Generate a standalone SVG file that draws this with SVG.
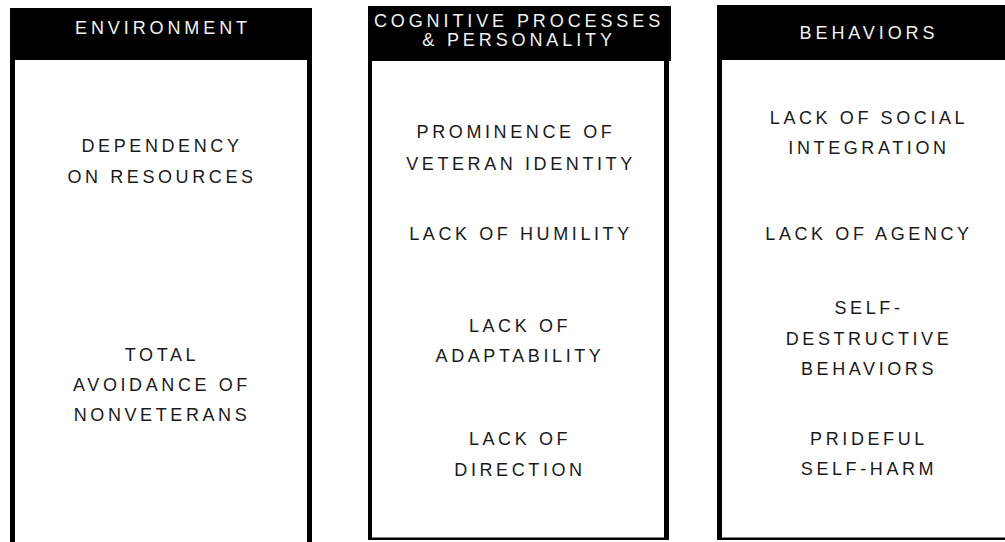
<svg xmlns="http://www.w3.org/2000/svg" width="1005" height="542" viewBox="0 0 1005 542">
<style>
.frame{fill:#000}
.inner{fill:#fff}
.hd{font-family:"Liberation Sans",Arial,sans-serif;font-size:18px;letter-spacing:3.9px;fill:#f2f2f2;text-anchor:middle}
.tx{font-family:"Liberation Sans",Arial,sans-serif;font-size:18px;letter-spacing:3.6px;fill:#1a1a1a;text-anchor:middle}
</style>
<rect width="1005" height="542" fill="#fff"/>
<g id="environment">
<rect class="frame" x="10" y="8" width="302" height="540"/>
<rect class="inner" x="15" y="60" width="292" height="490"/>
<text class="hd" x="163" y="34">ENVIRONMENT</text>
<text class="tx" x="162" y="152">DEPENDENCY</text>
<text class="tx" x="162" y="183">ON RESOURCES</text>
<text class="tx" x="162" y="361">TOTAL</text>
<text class="tx" x="162" y="391">AVOIDANCE OF</text>
<text class="tx" x="162" y="421">NONVETERANS</text>
</g>
<g id="cognitive">
<rect class="frame" x="368" y="6" width="303" height="55"/>
<rect class="frame" x="368" y="6" width="301" height="534"/>
<rect class="inner" x="372" y="61" width="292" height="476.5"/>
<text class="hd" x="519" y="27">COGNITIVE PROCESSES</text>
<text class="hd" x="519" y="46">&amp; PERSONALITY</text>
<text class="tx" x="516" y="138">PROMINENCE OF</text>
<text class="tx" x="521" y="170">VETERAN IDENTITY</text>
<text class="tx" x="521" y="240">LACK OF HUMILITY</text>
<text class="tx" x="520" y="332">LACK OF</text>
<text class="tx" x="520" y="362">ADAPTABILITY</text>
<text class="tx" x="520" y="445">LACK OF</text>
<text class="tx" x="520" y="476">DIRECTION</text>
</g>
<g id="behaviors">
<rect class="frame" x="717" y="5" width="300" height="535"/>
<rect class="inner" x="722" y="60" width="300" height="477.5"/>
<text class="hd" x="869" y="39">BEHAVIORS</text>
<text class="tx" x="869" y="124">LACK OF SOCIAL</text>
<text class="tx" x="869" y="154">INTEGRATION</text>
<text class="tx" x="869" y="240">LACK OF AGENCY</text>
<text class="tx" x="869" y="314">SELF-</text>
<text class="tx" x="869" y="345">DESTRUCTIVE</text>
<text class="tx" x="869" y="375">BEHAVIORS</text>
<text class="tx" x="869" y="445">PRIDEFUL</text>
<text class="tx" x="869" y="475">SELF-HARM</text>
</g>
<g id="connectors"></g>
</svg>
